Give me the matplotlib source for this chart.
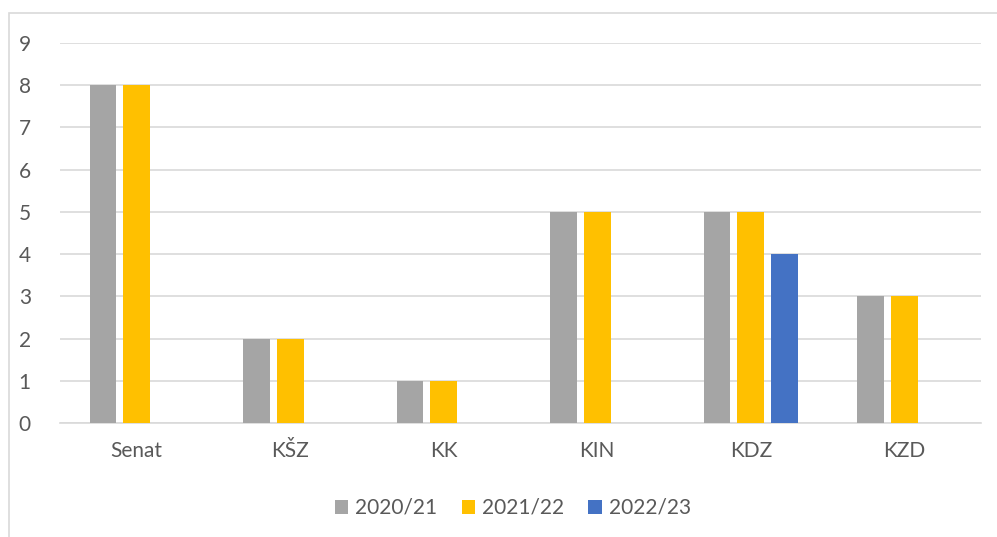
import numpy as np
import matplotlib.pyplot as plt
from matplotlib.patches import Rectangle

categories = ['Senat', 'KŠZ', 'KK', 'KIN', 'KDZ', 'KZD']
series_names = ['2020/21', '2021/22', '2022/23']
v_2020 = [8, 2, 1, 5, 5, 3]
v_2021 = [8, 2, 1, 5, 5, 3]
v_2022 = [0, 0, 0, 0, 4, 0]
colors = ['#A5A5A5', '#FFC000', '#4472C4']

plt.rcParams['font.family'] = ['Lato', 'DejaVu Sans']
text_color = '#595959'
grid_color = '#D9D9D9'

fig = plt.figure(figsize=(9.97, 5.37), dpi=100)
W, H = 997, 537
ax = fig.add_axes([60 / W, 1 - 423 / H, (981 - 60) / W, (423 - 43) / H])

# chart border (only left and top visible in crop)
fig.patches.append(Rectangle((9 / W, -0.1), 1.2, 1 - 13 / H + 0.1,
                             transform=fig.transFigure, fill=False,
                             edgecolor=grid_color, linewidth=1.2))

x = np.arange(len(categories))
bar_w = 0.173
step = 0.221
for i, (vals, name) in enumerate(zip([v_2020, v_2021, v_2022], series_names)):
    ax.bar(x + (i - 1) * step, vals, width=bar_w, color=colors[i], label=name, zorder=3)

ax.set_xlim(-0.5, len(categories) - 0.5)
ax.set_ylim(0, 9)
ax.set_yticks(range(10))
ax.set_xticks(x)
ax.set_xticklabels(categories)
ax.tick_params(axis='both', length=0, labelsize=15, colors=text_color)
ax.tick_params(axis='y', pad=21)
ax.tick_params(axis='x', pad=13)
ax.yaxis.grid(True, color=grid_color, linewidth=1.2, zorder=0)
for s in ['top', 'right', 'left']:
    ax.spines[s].set_visible(False)
ax.spines['bottom'].set_color(grid_color)
ax.spines['bottom'].set_linewidth(1.2)

leg = fig.legend(loc='center', bbox_to_anchor=(513 / W, 1 - 508 / H), ncol=3,
                 frameon=False, fontsize=15, handlelength=0.65, handleheight=0.65,
                 handletextpad=0.35, columnspacing=1.15, labelcolor=text_color)

fig.savefig('out.png', dpi=100)
